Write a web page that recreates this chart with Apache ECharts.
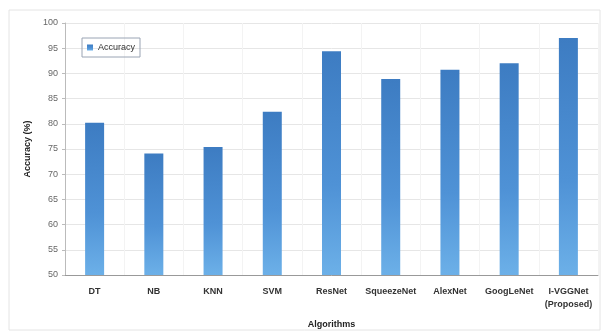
<!DOCTYPE html>
<html><head><meta charset="utf-8">
<script src="https://cdn.jsdelivr.net/npm/echarts@6/dist/echarts.min.js"></script>
<style>html,body{margin:0;padding:0;background:#fff}#c{width:604px;height:334px}</style>
</head><body><div id="c"></div>
<script>
var categories = ['DT','NB','KNN','SVM','ResNet','SqueezeNet','AlexNet','GoogLeNet','I-VGGNet\n(Proposed)'];
var accuracy = [80.2, 74.1, 75.4, 82.4, 94.4, 88.9, 90.7, 92.0, 97.0];
var yTicks = [50,55,60,65,70,75,80,85,90,95,100];

var chart = echarts.init(document.getElementById('c'), null, {renderer:'canvas'});
chart.setOption({
  animation:false,
  backgroundColor:'#fff',
  graphic:[{type:'rect',shape:{x:9,y:10,width:591,height:320},style:{fill:'none',stroke:'#e4e4e4',lineWidth:1},z:-1}],
  grid:{left:65,right:6,top:23,bottom:59},
  legend:{
    data:['Accuracy'],left:82,top:38,orient:'horizontal',
    itemWidth:6,itemHeight:6,itemGap:4,padding:[5,5,5,5],
    borderColor:'#9aa4b4',borderWidth:1,
    icon:'rect',
    textStyle:{fontFamily:'Liberation Sans, Arial',fontSize:9,color:'#333'}
  },
  xAxis:{
    type:'category',data:categories,
    name:'Algorithms',nameLocation:'middle',nameGap:45,
    nameTextStyle:{fontFamily:'Liberation Sans, Arial',fontSize:9,fontWeight:'bold',color:'#222'},
    axisLine:{lineStyle:{color:'#999'}},
    axisTick:{show:false},
    axisLabel:{fontFamily:'Liberation Sans, Arial',fontSize:9,fontWeight:'bold',color:'#333',interval:0,margin:10,lineHeight:13,verticalAlign:'top'},
    splitLine:{show:true,lineStyle:{color:'#f3f3f3'}}
  },
  yAxis:{
    type:'value',min:50,max:100,interval:5,
    name:'Accuracy (%)',nameLocation:'middle',nameGap:32,nameRotate:90,
    nameTextStyle:{fontFamily:'Liberation Sans, Arial',fontSize:9,fontWeight:'bold',color:'#222'},
    axisLine:{show:true,lineStyle:{color:'#bbb'}},
    axisTick:{show:true,length:3,lineStyle:{color:'#bbb'}},
    axisLabel:{fontFamily:'Liberation Sans, Arial',fontSize:9,color:'#666',margin:7,
      formatter:function(v){return yTicks.indexOf(v)>=0?String(v):'';}},
    splitLine:{lineStyle:{color:'#e6e6e6'}}
  },
  series:[{
    name:'Accuracy',type:'bar',data:accuracy,barWidth:19,
    itemStyle:{color:new echarts.graphic.LinearGradient(0,0,0,1,[
      {offset:0,color:'#3d7cc2'},{offset:0.6,color:'#4f92d6'},{offset:1,color:'#6cb0e8'}])}
  }]
});
</script></body></html>
